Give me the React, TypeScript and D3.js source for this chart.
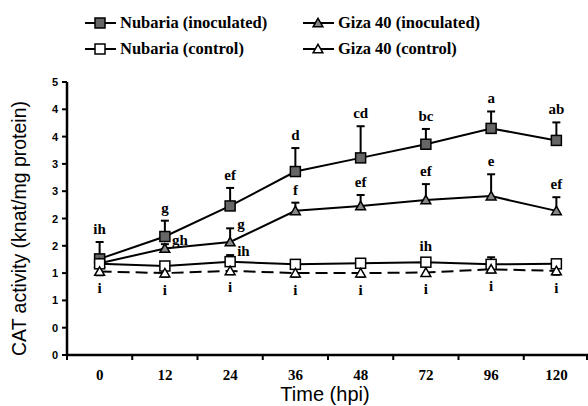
import React from 'react';
import * as d3 from 'd3';

// CAT activity over time, four cultivar/treatment series
const timeLabels = ['0', '12', '24', '36', '48', '72', '96', '120'];
const yTicks = [0, 0.5, 1, 1.5, 2, 2.5, 3, 3.5, 4, 4.5, 5];
const yTickLabels = ['0', '0', '1', '1', '2', '2', '3', '3', '4', '4', '5'];

const nubariaInoc = [1.76, 2.17, 2.73, 3.36, 3.61, 3.86, 4.15, 3.93];
const nubariaInocErr = [0.31, 0.29, 0.33, 0.43, 0.58, 0.28, 0.31, 0.33];
const nubariaInocLetters = ['ih', 'g', 'ef', 'd', 'cd', 'bc', 'a', 'ab'];

const gizaInoc = [1.68, 1.95, 2.07, 2.64, 2.73, 2.84, 2.91, 2.64];
const gizaInocErr = [0.08, 0.08, 0.25, 0.15, 0.2, 0.29, 0.4, 0.25];
const gizaInocLetters = ['', 'gh', 'g', 'f', 'ef', 'ef', 'e', 'ef'];

const nubariaCtrl = [1.67, 1.63, 1.71, 1.66, 1.68, 1.7, 1.66, 1.67];
const nubariaCtrlErr = [0.05, 0.05, 0.12, 0.04, 0.05, 0.05, 0.13, 0.04];
const nubariaCtrlLetters = ['', '', 'ih', '', '', 'ih', '', ''];

const gizaCtrl = [1.53, 1.5, 1.54, 1.5, 1.5, 1.51, 1.57, 1.54];
const gizaCtrlErr = [0.07, 0.07, 0.06, 0.07, 0.07, 0.06, 0.06, 0.07];
const gizaCtrlLetters = ['i', 'i', 'i', 'i', 'i', 'i', 'i', 'i'];

const serif = '"Liberation Serif", "Times New Roman", serif';
const sans = '"Liberation Sans", Arial, sans-serif';

type Series = {
    name: string;
    values: number[];
    err: number[];
    letters: string[];
    marker: 'square' | 'triangle';
    fill: string;
    dashed: boolean;
    errDown: boolean;
};

const series: Series[] = [
    {name: 'Nubaria (inoculated)', values: nubariaInoc, err: nubariaInocErr, letters: nubariaInocLetters, marker: 'square', fill: '#666', dashed: false, errDown: false},
    {name: 'Giza 40 (inoculated)', values: gizaInoc, err: gizaInocErr, letters: gizaInocLetters, marker: 'triangle', fill: '#888', dashed: false, errDown: false},
    {name: 'Nubaria (control)', values: nubariaCtrl, err: nubariaCtrlErr, letters: nubariaCtrlLetters, marker: 'square', fill: '#fff', dashed: false, errDown: false},
    {name: 'Giza 40 (control)', values: gizaCtrl, err: gizaCtrlErr, letters: gizaCtrlLetters, marker: 'triangle', fill: '#fff', dashed: true, errDown: true},
];

const width = 588;
const height = 406;
const margin = {top: 82, right: 0, bottom: 51, left: 67};

function Marker({kind, x, y, fill}: {kind: string; x: number; y: number; fill: string}) {
    if (kind === 'square') {
        return <rect x={x - 5} y={y - 5} width={10} height={10} fill={fill} stroke="#000" strokeWidth={1.5}/>;
    }
    const path = d3.symbol(d3.symbolTriangle, 42)();
    return <path d={path || ''} transform={`translate(${x},${y + 1})`} fill={fill} stroke="#000" strokeWidth={1.5}/>;
}

export default function App() {
    const x = d3.scaleBand<string>()
        .domain(timeLabels)
        .range([margin.left, width - margin.right + 1]);
    const y = d3.scaleLinear()
        .domain([0, 5])
        .range([height - margin.bottom, margin.top]);

    const cx = (i: number) => (x(timeLabels[i]) as number) + x.bandwidth() / 2;

    const line = d3.line<number>()
        .x((_, i) => cx(i))
        .y((d) => y(d));

    const letterNodes: React.ReactNode[] = [];
    series.forEach((s, si) => {
        s.letters.forEach((t, i) => {
            if (!t) return;
            if (s.errDown) {
                const bottom = y(s.values[i] - s.err[i]);
                letterNodes.push(<text key={`l${si}-${i}`} x={cx(i)} y={bottom + 18} textAnchor="middle">{t}</text>);
                return;
            }
            const top = y(s.values[i] + s.err[i]);
            const centre = top - 13;
            // shift to the right when another marker sits where the letter would go
            const crowded = series.some((o, oi) => oi !== si && Math.abs(y(o.values[i]) - centre) < 12);
            if (crowded) {
                letterNodes.push(<text key={`l${si}-${i}`} x={cx(i) + 7} y={top + 1} textAnchor="start">{t}</text>);
            } else {
                letterNodes.push(<text key={`l${si}-${i}`} x={cx(i)} y={top - 8} textAnchor="middle">{t}</text>);
            }
        });
    });

    const legendCols = [85, 303];
    const legendRows = [23, 49];

    return (
        <svg width={width} height={height} style={{position: 'absolute', left: 0, top: 0}}>
            <rect width={width} height={height} fill="#fff"/>

            {/* legend */}
            {series.map((s, i) => {
                const lx = legendCols[i % 2];
                const ly = legendRows[Math.floor(i / 2)];
                return (
                    <g key={`leg${i}`}>
                        <line x1={lx} x2={lx + 31} y1={ly} y2={ly} stroke="#000" strokeWidth={2}/>
                        <Marker kind={s.marker} x={lx + 15} y={ly} fill={s.fill}/>
                        <text x={lx + 35} y={ly + 5} fontFamily={serif} fontWeight="bold" fontSize={16.5}>{s.name}</text>
                    </g>
                );
            })}

            {/* axes */}
            <line x1={margin.left} x2={margin.left} y1={y(5)} y2={y(0)} stroke="#000" strokeWidth={2.5}/>
            <line x1={margin.left} x2={width} y1={y(0)} y2={y(0)} stroke="#000" strokeWidth={2.5}/>
            {yTicks.map((t, i) => (
                <g key={`yt${i}`}>
                    <line x1={margin.left - 5} x2={margin.left} y1={y(t)} y2={y(t)} stroke="#000" strokeWidth={2}/>
                    <text x={margin.left - 9} y={y(t) + 4} textAnchor="end" fontFamily={sans} fontWeight="bold" fontSize={11}>{yTickLabels[i]}</text>
                </g>
            ))}
            {timeLabels.map((t, i) => (
                <g key={`xt${i}`}>
                    <line x1={x(t) as number} x2={x(t) as number} y1={y(0)} y2={y(0) + 5} stroke="#000" strokeWidth={2}/>
                    <text x={cx(i)} y={y(0) + 25} textAnchor="middle" fontFamily={serif} fontWeight="bold" fontSize={15}>{t}</text>
                </g>
            ))}
            <line x1={width - 1} x2={width - 1} y1={y(0)} y2={y(0) + 5} stroke="#000" strokeWidth={2}/>

            <text transform={`translate(26,${(y(0) + y(5)) / 2 + 10}) rotate(-90)`} textAnchor="middle" fontFamily={sans} fontSize={19.5}>CAT activity (knat/mg protein)</text>
            <text x={325} y={401} textAnchor="middle" fontFamily={sans} fontSize={20}>Time (hpi)</text>

            {/* series lines */}
            {series.map((s, i) => (
                <path key={`ln${i}`} d={line(s.values) || ''} fill="none" stroke="#000" strokeWidth={2}
                      strokeDasharray={s.dashed ? '12,6' : undefined}/>
            ))}

            {/* error bars */}
            {series.map((s, si) => s.values.map((v, i) => {
                const end = s.errDown ? v - s.err[i] : v + s.err[i];
                return (
                    <g key={`eb${si}-${i}`} stroke="#000" strokeWidth={2}>
                        <line x1={cx(i)} x2={cx(i)} y1={y(v)} y2={y(end)}/>
                        <line x1={cx(i) - 4} x2={cx(i) + 4} y1={y(end)} y2={y(end)}/>
                    </g>
                );
            }))}

            {/* markers */}
            {series.map((s, si) => s.values.map((v, i) => (
                <Marker key={`m${si}-${i}`} kind={s.marker} x={cx(i)} y={y(v)} fill={s.fill}/>
            )))}

            <g fontFamily={serif} fontWeight="bold" fontSize={15}>
                {letterNodes}
            </g>
        </svg>
    );
}
